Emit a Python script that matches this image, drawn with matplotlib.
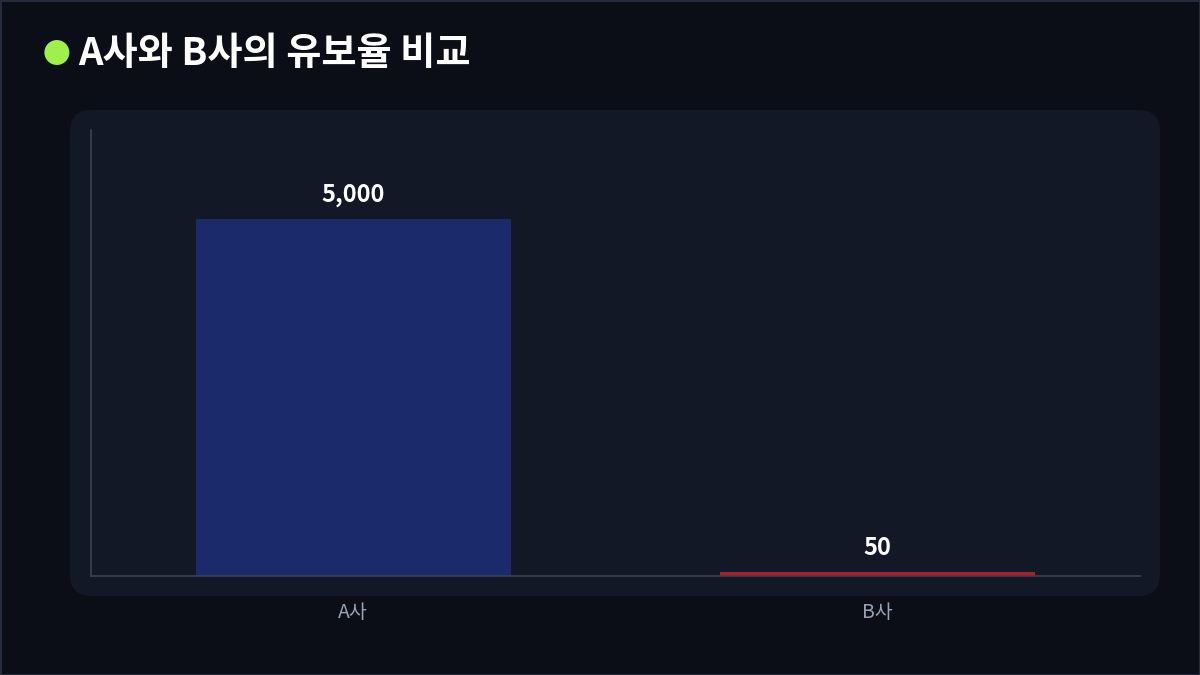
import matplotlib
matplotlib.use('Agg')
import matplotlib.pyplot as plt
from matplotlib.patches import FancyBboxPatch, Rectangle

plt.rcParams['font.family'] = ['Noto Sans CJK KR', 'DejaVu Sans']

# data
categories = ['A사', 'B사']
values = [5000, 50]
bar_colors = ['#1b2a6b', '#b01e24']
title = 'A사와 B사의 유보율 비교'

BG = '#0b0e17'
PANEL = '#121826'

fig = plt.figure(figsize=(12, 6.75), dpi=100)
fig.patch.set_facecolor(BG)

# outer frame
fig.patches.append(Rectangle((0.5 / 1200, 0.5 / 675), 1 - 1 / 1200, 1 - 1 / 675,
                             transform=fig.transFigure, fill=False,
                             edgecolor='#2a3242', linewidth=1.2, zorder=-2))

# panel behind the chart
fig.patches.append(FancyBboxPatch((70 / 1200, 1 - 596 / 675), 1090 / 1200, 486 / 675,
                                  boxstyle='round,pad=0,rounding_size=0.018',
                                  transform=fig.transFigure, facecolor=PANEL,
                                  edgecolor='none', mutation_aspect=1200 / 675,
                                  zorder=-1))

# title with dot
fig.text(56 / 1200, 1 - 55 / 675, '●', color='#9ef04a', fontsize=20,
         ha='center', va='center')
fig.text(78 / 1200, 1 - 54 / 675, title, color='white', fontsize=27.5,
         fontweight='heavy', ha='left', va='center')

ax = fig.add_axes([91 / 1200, 1 - 576 / 675, 1049 / 1200, 446 / 675])
ax.set_facecolor('none')
x = range(len(categories))
bars = ax.bar(x, values, width=0.6, color=bar_colors)
ax.set_xlim(-0.5, 1.5)
ax.set_ylim(0, 6250)

for b, v in zip(bars, values):
    ax.text(b.get_x() + b.get_width() / 2, v + 170, f'{v:,}', color='white',
            fontsize=17, fontweight='bold', ha='center', va='bottom')

ax.set_xticks(list(x))
ax.set_xticklabels(categories, color='#9aa3b5', fontsize=14)
ax.tick_params(axis='x', length=0, pad=19)
ax.set_yticks([])
for s in ['top', 'right']:
    ax.spines[s].set_visible(False)
for s in ['left', 'bottom']:
    ax.spines[s].set_color('#3a4354')
    ax.spines[s].set_linewidth(1.2)

fig.savefig('out.png', dpi=100, facecolor=BG)
